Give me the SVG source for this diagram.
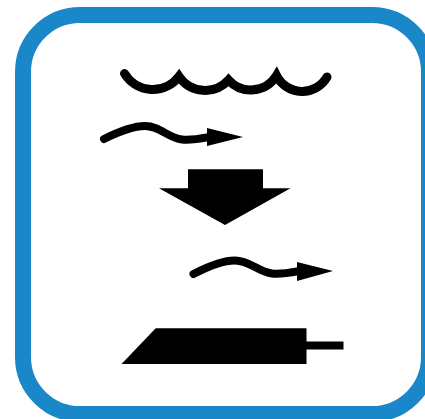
<svg xmlns="http://www.w3.org/2000/svg" width="425" height="419" viewBox="0 0 425 419">
<style>
.line{fill:none;stroke:#000;stroke-linecap:round;stroke-linejoin:miter;stroke-miterlimit:10}
.wave{stroke-width:9}
.tail{stroke-width:8}
.solid{fill:#000}
</style>
<rect width="425" height="419" fill="#fff"/>
<rect id="frame" x="23" y="15" width="406" height="399" rx="57" ry="57" fill="#fff" stroke="#1a87c9" stroke-width="16"/>
<path id="waves" class="line wave" d="M124.500 73.500A33 33 0 0 0 179 76.500A31.500 31.500 0 0 0 228.500 80A30 30 0 0 0 276.500 75.500A28.600 28.600 0 0 0 327 77"/>
<g id="wave-arrow-top">
<path class="line tail" d="M104 139C118 132 132 126 145 126C160 126 168 138 182 139.500C192 140.500 201 138.500 212 136.500"/>
<polygon class="solid" points="207,128 243,137 207,146"/>
</g>
<polygon id="down-arrow" class="solid" points="188,169.300 263,169.300 263,188.300 290.500,188.300 225,225 159,188.300 188,188.300"/>
<g id="wave-arrow-bottom">
<path class="line tail" d="M193.500 274C207 267 221 260.500 235 260.500C250 260.500 258 272 272 273.500C282 274.500 291 272.500 302 270.500"/>
<polygon class="solid" points="297,262 333,271 297,281"/>
</g>
<g id="plate">
<polygon class="solid" points="121.500,364 155.700,328.300 306.500,328.300 306.500,364"/>
<rect class="solid" x="306" y="341.500" width="37.500" height="8"/>
</g>
</svg>
